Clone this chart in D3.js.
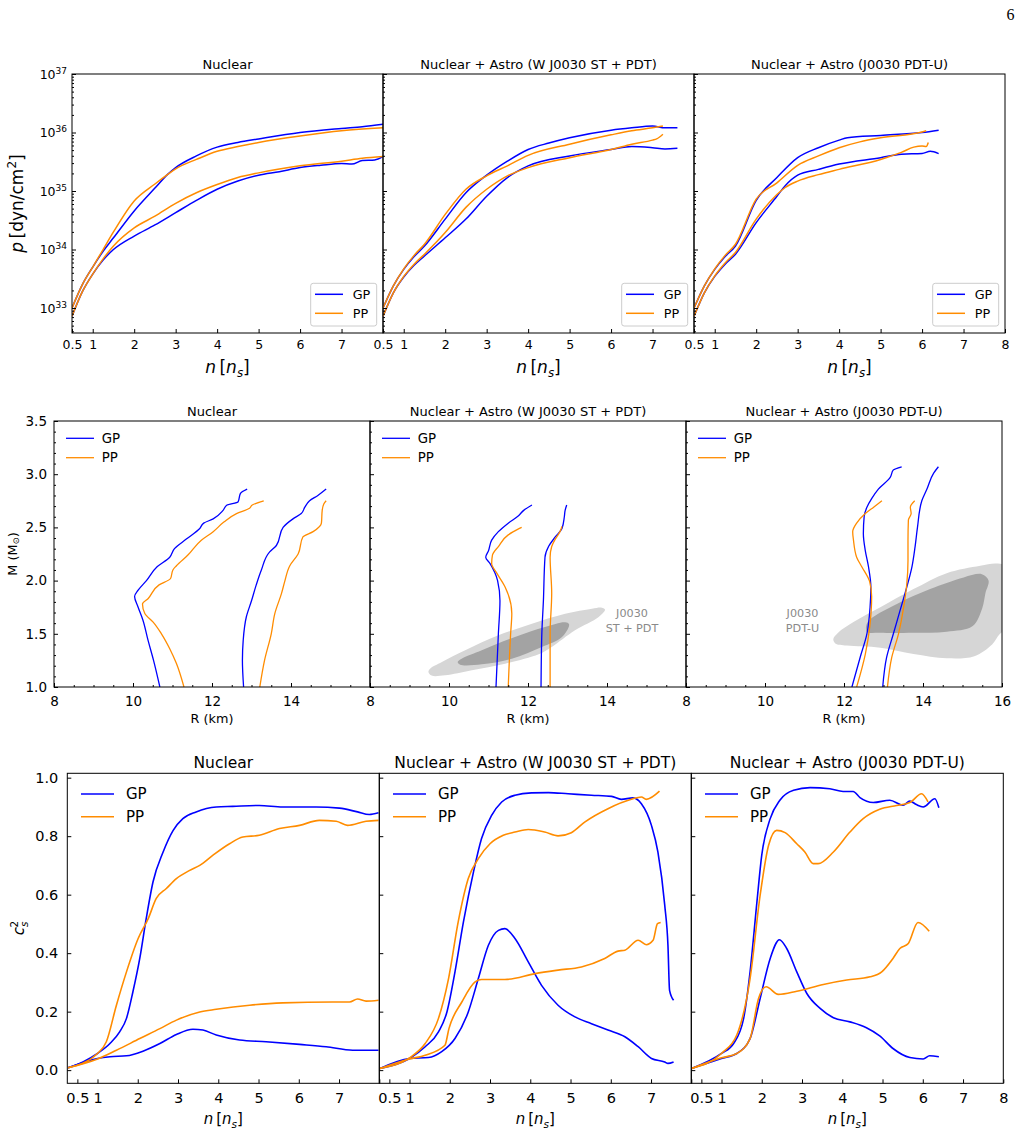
<!DOCTYPE html>
<html>
<head>
<meta charset="utf-8">
<script src="https://cdn.jsdelivr.net/npm/d3@7"></script>
<style>
  body { margin: 0; background: #fff; }
  text { font-family: "DejaVu Sans", sans-serif; }
</style>
</head>
<body>
<div class="graphic"></div>
<script>
// ---------- data ----------
const titles = ["Nuclear", "Nuclear + Astro (W J0030 ST + PDT)", "Nuclear + Astro (J0030 PDT-U)"];
const seriesNames = ["GP", "PP"];

// row 1: pressure, stored as [n/ns, log10 p]
const nucPGPHi = [[0.5,33.0],[0.75,33.4],[1,33.7],[1.25,33.97],[1.5,34.2],[2,34.66],[2.5,35.05],[2.8,35.28],[3,35.40],[3.5,35.60],[4,35.75],[4.5,35.83],[5,35.89],[6,36.0],[7,36.07],[7.5,36.1],[8,36.14]];
const nucPGPLo = [[0.5,32.86],[0.75,33.28],[1,33.58],[1.25,33.82],[1.5,34.0],[2,34.23],[2.5,34.42],[3,34.63],[3.5,34.84],[4,35.03],[4.5,35.17],[5,35.27],[5.5,35.33],[6,35.40],[6.5,35.44],[7,35.47],[7.25,35.46],[7.5,35.52],[7.8,35.53],[8,35.59]];
const nucPPPHi = [[0.5,33.0],[0.75,33.4],[1,33.7],[1.25,34.0],[1.5,34.3],[2,34.83],[2.5,35.12],[2.8,35.28],[3,35.38],[3.5,35.54],[4,35.68],[4.5,35.76],[5,35.83],[6,35.94],[7,36.03],[8,36.08]];
const nucPPPLo = [[0.5,32.86],[0.75,33.28],[1,33.58],[1.25,33.84],[1.5,34.06],[2,34.37],[2.5,34.57],[3,34.79],[3.5,34.97],[4,35.11],[4.5,35.23],[5,35.31],[6,35.43],[7,35.51],[7.5,35.56],[8,35.59]];

const astPGPHi = [[0.5,33.0],[0.75,33.38],[1,33.66],[1.25,33.88],[1.5,34.06],[2,34.52],[2.5,34.97],[3,35.27],[3.5,35.51],[4,35.71],[4.5,35.82],[5,35.91],[6,36.04],[6.5,36.08],[7,36.11],[7.3,36.08],[7.6,36.08]];
const astPGPLo = [[0.5,32.86],[0.75,33.26],[1,33.53],[1.25,33.73],[1.5,33.89],[2,34.2],[2.5,34.52],[3,34.91],[3.5,35.23],[4,35.43],[5,35.6],[6,35.71],[6.5,35.76],[7,35.74],[7.3,35.72],[7.6,35.73]];
const astPPPHi = [[0.5,33.0],[0.75,33.38],[1,33.67],[1.25,33.9],[1.5,34.09],[2,34.6],[2.5,35.03],[3,35.26],[3.5,35.43],[4,35.61],[5,35.8],[6,35.96],[6.5,36.03],[7,36.08],[7.25,36.11]];
const astPPPLo = [[0.5,32.86],[0.75,33.26],[1,33.54],[1.25,33.75],[1.5,33.92],[2,34.29],[2.5,34.72],[3,35.03],[3.5,35.26],[4,35.4],[5,35.57],[6,35.71],[6.5,35.8],[7,35.87],[7.1,35.89],[7.25,35.97]];

const pdtPGPHi = [[0.5,33.0],[0.75,33.38],[1,33.66],[1.25,33.88],[1.5,34.06],[2,34.84],[2.5,35.23],[3,35.57],[3.5,35.74],[4,35.87],[4.2,35.91],[5,35.95],[6,36.0],[6.4,36.04]];
const pdtPGPLo = [[0.5,32.86],[0.75,33.26],[1,33.54],[1.25,33.75],[1.5,33.92],[2,34.46],[2.5,34.91],[2.7,35.09],[3,35.27],[3.5,35.37],[4,35.46],[5,35.57],[5.5,35.63],[6,35.64],[6.2,35.68],[6.4,35.64]];
const pdtPPPHi = [[0.5,33.0],[0.75,33.38],[1,33.67],[1.25,33.9],[1.5,34.09],[2,34.86],[2.5,35.14],[3,35.44],[3.5,35.6],[4,35.74],[4.5,35.84],[5,35.91],[6,36.01],[6.1,36.03]];
const pdtPPPLo = [[0.5,32.86],[0.75,33.26],[1,33.55],[1.25,33.77],[1.5,33.95],[2,34.52],[2.5,34.94],[2.7,35.06],[3,35.17],[3.5,35.28],[4,35.37],[5,35.54],[5.5,35.66],[5.8,35.75],[6,35.77],[6.1,35.76],[6.15,35.83]];

// row 2: mass-radius, stored as [R km, M Msun]
const nucMGPL = [[10.68,1.0],[10.52,1.25],[10.38,1.44],[10.25,1.63],[10.13,1.75],[10.04,1.85],[10.13,1.91],[10.34,2.0],[10.61,2.13],[10.93,2.22],[11.05,2.30],[11.35,2.39],[11.69,2.49],[11.79,2.54],[12.03,2.58],[12.28,2.66],[12.38,2.71],[12.66,2.74],[12.72,2.82],[12.89,2.86]];
const nucMGPR = [[12.80,1.0],[12.77,1.25],[12.79,1.44],[12.87,1.66],[13.0,1.81],[13.12,1.96],[13.25,2.10],[13.46,2.27],[13.63,2.33],[13.80,2.50],[14.05,2.58],[14.26,2.63],[14.35,2.69],[14.47,2.75],[14.68,2.80],[14.89,2.86]];
const nucMPPL = [[11.29,1.0],[11.10,1.22],[10.93,1.36],[10.72,1.50],[10.51,1.61],[10.30,1.69],[10.24,1.78],[10.38,1.83],[10.66,1.96],[10.95,2.02],[11.01,2.10],[11.10,2.14],[11.39,2.24],[11.73,2.38],[12.03,2.46],[12.30,2.55],[12.62,2.63],[12.95,2.68],[13.02,2.71],[13.31,2.75]];
const nucMPPR = [[13.21,1.0],[13.33,1.25],[13.50,1.50],[13.59,1.69],[13.76,1.88],[13.84,1.99],[13.97,2.14],[14.18,2.25],[14.30,2.41],[14.56,2.46],[14.77,2.54],[14.79,2.66],[14.83,2.72],[14.89,2.75]];

const astMGPL = [[11.19,1.0],[11.25,1.5],[11.29,1.81],[11.23,2.0],[11.04,2.16],[10.93,2.22],[11.0,2.28],[11.08,2.38],[11.25,2.46],[11.5,2.54],[11.76,2.61],[11.89,2.66],[12.1,2.71]];
const astMGPR = [[12.33,1.0],[12.35,1.5],[12.39,1.81],[12.43,2.22],[12.52,2.32],[12.69,2.41],[12.86,2.49],[12.92,2.60],[12.94,2.66],[12.98,2.71]];
const astMPPL = [[11.5,1.0],[11.56,1.5],[11.59,1.69],[11.42,1.94],[11.21,2.07],[11.08,2.16],[11.1,2.24],[11.25,2.32],[11.5,2.43],[11.63,2.46],[11.84,2.5]];
const astMPPR = [[12.56,1.0],[12.56,1.5],[12.6,1.88],[12.56,2.22],[12.6,2.32],[12.69,2.39],[12.81,2.46],[12.86,2.51]];

const pdtMGPL = [[12.2,1.0],[12.41,1.28],[12.58,1.5],[12.66,1.75],[12.68,1.94],[12.62,2.13],[12.54,2.28],[12.49,2.44],[12.51,2.6],[12.58,2.69],[12.7,2.77],[12.87,2.86],[13.17,2.97],[13.25,3.04],[13.46,3.07]];
const pdtMGPR = [[12.98,1.0],[13.08,1.28],[13.25,1.5],[13.42,1.72],[13.59,1.94],[13.72,2.13],[13.8,2.32],[13.86,2.5],[13.97,2.75],[14.1,2.86],[14.27,3.01],[14.39,3.07]];
const pdtMPPL = [[12.32,1.0],[12.54,1.31],[12.65,1.56],[12.7,1.85],[12.65,1.99],[12.45,2.13],[12.32,2.22],[12.24,2.38],[12.22,2.46],[12.32,2.54],[12.54,2.63],[12.75,2.69],[12.96,2.75]];
const pdtMPPR = [[13.1,1.0],[13.21,1.28],[13.38,1.5],[13.51,1.75],[13.59,1.97],[13.62,2.19],[13.62,2.38],[13.63,2.57],[13.7,2.63],[13.68,2.69],[13.79,2.75]];

// J0030 credible regions [R km, M Msun]
const stOuter = [[9.48,1.141],[9.56,1.107],[9.9,1.11],[10.58,1.157],[11.42,1.219],[12.27,1.307],[12.6,1.376],[13.19,1.533],[13.79,1.658],[13.95,1.727],[13.87,1.746],[13.62,1.736],[12.94,1.689],[12.1,1.595],[11.25,1.486],[10.41,1.345],[9.82,1.235],[9.52,1.172]];
const stInner = [[10.22,1.235],[10.28,1.21],[10.83,1.213],[11.59,1.266],[12.35,1.376],[12.86,1.47],[13.04,1.589],[12.94,1.608],[12.43,1.564],[11.67,1.47],[10.83,1.345],[10.32,1.266]];
const pdtuOuter = [[11.73,1.45],[11.85,1.51],[12.24,1.61],[12.92,1.75],[13.76,1.92],[14.6,2.07],[15.45,2.14],[15.9,2.16],[16.3,2.1],[16.3,1.6],[15.95,1.5],[15.75,1.4],[15.3,1.29],[14.6,1.27],[13.76,1.31],[12.92,1.37],[12.07,1.39],[11.78,1.41]];
const pdtuInner = [[12.58,1.52],[12.6,1.61],[13.34,1.78],[14.18,1.92],[15.03,2.03],[15.49,2.06],[15.66,2.0],[15.58,1.88],[15.5,1.74],[15.25,1.57],[14.6,1.52],[13.76,1.51],[12.92,1.51]];
const regionLabels = [null, ["J0030", "ST + PDT"], ["J0030", "PDT-U"]];

// row 3: sound speed squared [n/ns, cs2]
const nucCGPHi = [[0.27,0.008],[0.64,0.028],[1.0,0.057],[1.31,0.091],[1.55,0.131],[1.72,0.177],[1.88,0.268],[2.05,0.382],[2.21,0.518],[2.38,0.644],[2.63,0.746],[2.88,0.82],[3.12,0.86],[3.45,0.883],[3.95,0.9],[4.36,0.902],[5.02,0.905],[5.6,0.9],[6.43,0.9],[7.01,0.896],[7.46,0.883],[7.75,0.874],[7.98,0.88]];
const nucCGPLo = [[0.27,0.008],[1.0,0.04],[1.31,0.046],[1.72,0.049],[2.13,0.065],[2.55,0.091],[2.96,0.122],[3.37,0.14],[3.62,0.137],[3.95,0.12],[4.53,0.103],[5.19,0.097],[6.02,0.088],[6.68,0.08],[7.34,0.068],[7.98,0.068]];
const nucCPPHi = [[0.27,0.008],[1.0,0.057],[1.22,0.097],[1.47,0.222],[1.72,0.336],[2.01,0.45],[2.26,0.518],[2.46,0.587],[2.71,0.621],[2.96,0.655],[3.29,0.683],[3.54,0.7],[3.87,0.735],[4.28,0.774],[4.61,0.797],[5.02,0.803],[5.52,0.826],[6.02,0.837],[6.51,0.854],[6.93,0.851],[7.21,0.837],[7.67,0.851],[7.98,0.854]];
const nucCPPLo = [[0.27,0.008],[1.0,0.038],[1.47,0.068],[2.05,0.108],[2.55,0.142],[2.96,0.171],[3.54,0.199],[3.95,0.208],[4.78,0.222],[5.6,0.23],[6.84,0.233],[7.26,0.233],[7.46,0.243],[7.67,0.236],[7.98,0.239]];

const astCGPHi = [[0.27,0.006],[1.0,0.04],[1.39,0.08],[1.72,0.131],[1.93,0.199],[2.13,0.336],[2.34,0.507],[2.59,0.678],[2.79,0.792],[3.04,0.871],[3.29,0.917],[3.62,0.94],[4.03,0.948],[4.45,0.949],[4.94,0.945],[5.52,0.94],[6.02,0.936],[6.26,0.926],[6.55,0.931],[6.76,0.911],[7.01,0.837],[7.17,0.746],[7.34,0.564],[7.42,0.427],[7.46,0.273],[7.56,0.239]];
const astCGPLo = [[0.27,0.006],[1.0,0.04],[1.47,0.043],[1.8,0.063],[2.13,0.108],[2.46,0.199],[2.71,0.313],[2.96,0.427],[3.21,0.478],[3.37,0.484],[3.62,0.45],[3.95,0.37],[4.28,0.29],[4.69,0.222],[5.11,0.182],[5.52,0.159],[5.93,0.137],[6.35,0.114],[6.68,0.08],[7.01,0.04],[7.34,0.028],[7.42,0.023],[7.56,0.028]];
const astCPPHi = [[0.27,0.006],[1.0,0.042],[1.39,0.091],[1.72,0.177],[1.97,0.313],[2.21,0.507],[2.46,0.655],[2.71,0.723],[3.0,0.774],[3.33,0.803],[3.62,0.814],[3.95,0.823],[4.36,0.814],[4.69,0.801],[5.02,0.812],[5.36,0.849],[5.93,0.894],[6.51,0.926],[6.76,0.934],[6.88,0.926],[7.21,0.954]];
const astCPPLo = [[0.27,0.006],[1.0,0.038],[1.39,0.051],[1.88,0.085],[1.98,0.142],[2.3,0.233],[2.63,0.302],[2.79,0.31],[3.37,0.31],[4.12,0.33],[4.69,0.342],[5.27,0.353],[5.85,0.382],[6.18,0.407],[6.35,0.41],[6.68,0.444],[6.88,0.429],[7.05,0.444],[7.16,0.501],[7.24,0.505]];

const pdtCGPHi = [[0.26,0.006],[1.0,0.057],[1.3,0.091],[1.55,0.177],[1.71,0.336],[1.88,0.575],[2.0,0.735],[2.21,0.86],[2.45,0.923],[2.79,0.957],[3.2,0.966],[3.69,0.962],[4.02,0.953],[4.27,0.953],[4.44,0.932],[4.77,0.915],[5.18,0.923],[5.51,0.906],[5.68,0.92],[5.84,0.908],[6.01,0.9],[6.3,0.928],[6.4,0.897]];
const pdtCGPLo = [[0.26,0.006],[1.0,0.04],[1.38,0.057],[1.71,0.108],[1.96,0.245],[2.21,0.382],[2.44,0.446],[2.62,0.416],[2.87,0.336],[3.12,0.262],[3.45,0.211],[3.78,0.179],[4.19,0.165],[4.6,0.145],[4.93,0.117],[5.26,0.074],[5.68,0.043],[6.01,0.038],[6.17,0.049],[6.4,0.046]];
const pdtCPPHi = [[0.26,0.006],[1.0,0.057],[1.38,0.12],[1.71,0.313],[1.96,0.598],[2.17,0.769],[2.37,0.82],[2.58,0.812],[2.87,0.774],[3.07,0.746],[3.28,0.706],[3.4,0.706],[3.78,0.746],[4.19,0.814],[4.52,0.86],[4.93,0.892],[5.35,0.905],[5.68,0.915],[5.97,0.945],[6.13,0.917]];
const pdtCPPLo = [[0.26,0.006],[1.0,0.042],[1.38,0.057],[1.71,0.108],[1.92,0.245],[2.11,0.285],[2.41,0.259],[2.87,0.27],[3.53,0.293],[4.11,0.308],[4.69,0.319],[4.98,0.336],[5.26,0.382],[5.43,0.416],[5.64,0.433],[5.88,0.505],[6.16,0.475]];

// tick values
const nTicks = [0.5, 1, 2, 3, 4, 5, 6, 7, 8];
const pTicks = [1e33, 1e34, 1e35, 1e36, 1e37];
const rTicks = [8, 10, 12, 14, 16];
const mTicks = [1.0, 1.5, 2.0, 2.5, 3.0, 3.5];
const csTicks = [0.0, 0.2, 0.4, 0.6, 0.8, 1.0];

// ---------- drawing ----------
const GP = "#0000ff", PP = "#ff8c00";
let svg = d3.select(".graphic").append("svg")
            .attr("width", 1022)
            .attr("height", 1134);
let clipId = 0;

function panelGroup(L, T, w, h) {
    let g = svg.append("g").attr("transform", `translate(${L},${T})`);
    let id = "clip" + (clipId++);
    g.append("clipPath").attr("id", id).append("rect").attr("width", w).attr("height", h);
    g.plot = g.append("g").attr("clip-path", `url(#${id})`);
    return g;
}

function drawAxes(g, x, y, w, h, o) {
    let xa = d3.axisBottom(x).tickValues(o.xTicks).tickSize(-4).tickSizeOuter(0)
        .tickPadding(o.padX).tickFormat(o.xFmt);
    g.append("g").attr("transform", `translate(0,${h})`).call(xa)
        .attr("font-size", o.fs).attr("font-family", "DejaVu Sans")
        .call(a => a.select(".domain").remove());
    if (o.xMinor) {
        g.append("g").attr("transform", `translate(0,${h})`)
            .call(d3.axisBottom(x).tickValues(o.xMinor).tickSize(-2).tickSizeOuter(0).tickFormat(""))
            .call(a => a.select(".domain").remove());
    }
    let ya = d3.axisLeft(y).tickValues(o.yTicks).tickSize(-4).tickSizeOuter(0)
        .tickPadding(o.padY).tickFormat(o.yFmt);
    let yg = g.append("g").call(ya)
        .attr("font-size", o.fs).attr("font-family", "DejaVu Sans")
        .call(a => a.select(".domain").remove());
    if (o.yPost) o.yPost(yg);
    if (o.yMinor) {
        g.append("g")
            .call(d3.axisLeft(y).tickValues(o.yMinor).tickSize(-2).tickSizeOuter(0).tickFormat(""))
            .call(a => a.select(".domain").remove());
    }
    g.append("rect").attr("width", w).attr("height", h)
        .attr("fill", "none").attr("stroke", "#000").attr("stroke-width", 1);
}

function legend(g, x0, x1, tx, ys, fs, lw) {
    seriesNames.forEach((s, k) => {
        g.append("line").attr("x1", x0).attr("x2", x1).attr("y1", ys[k]).attr("y2", ys[k])
            .attr("stroke", k === 0 ? GP : PP).attr("stroke-width", lw);
        g.append("text").attr("x", tx).attr("y", ys[k]).attr("dy", "0.35em")
            .attr("font-size", fs).text(s);
    });
}

function title(cx, y, fs, t) {
    svg.append("text").attr("x", cx).attr("y", y).attr("text-anchor", "middle")
        .attr("font-size", fs).text(t);
}

function nLabel(cx, y, fs) {
    let t = svg.append("text").attr("x", cx).attr("y", y).attr("text-anchor", "middle").attr("font-size", fs);
    t.append("tspan").attr("font-style", "italic").text("n");
    t.append("tspan").text("\u2009[");
    t.append("tspan").attr("font-style", "italic").text("n");
    t.append("tspan").attr("font-style", "italic").attr("font-size", fs * 0.7).attr("dy", fs * 0.25).text("s");
    t.append("tspan").attr("dy", -fs * 0.25).text("]");
}

const nFmt = (last) => (d) => (d === 8 && !last) ? "" : (d === 0.5 ? "0.5" : d3.format("d")(d));

// ---- row 1: pressure ----
const r1 = {lefts: [72, 383, 694], top: 74, w: 311, h: 259};
const pSets = [[nucPGPHi, nucPGPLo, nucPPPHi, nucPPPLo],
               [astPGPHi, astPGPLo, astPPPHi, astPPPLo],
               [pdtPGPHi, pdtPGPLo, pdtPPPHi, pdtPPPLo]];
const pMinor = [];
for (let e = 32; e < 37; e++) for (let k = 2; k < 10; k++) {
    if (k * Math.pow(10, e) > Math.pow(10, 32.573)) pMinor.push(k * Math.pow(10, e));
}
r1.lefts.forEach((L, i) => {
    let g = panelGroup(L, r1.top, r1.w, r1.h);
    let x = d3.scaleLinear().domain([0.5, 8]).range([0, r1.w]);
    let y = d3.scaleLog().domain([Math.pow(10, 32.573), 1e37]).range([r1.h, 0]);
    let line = d3.line().x(d => x(d[0])).y(d => y(Math.pow(10, d[1]))).curve(d3.curveMonotoneX);
    pSets[i].forEach((s, k) => {
        g.plot.append("path").attr("d", line(s)).attr("fill", "none")
            .attr("stroke", k < 2 ? GP : PP).attr("stroke-width", 1.5);
    });
    drawAxes(g, x, y, r1.w, r1.h, {
        xTicks: nTicks, xFmt: nFmt(i === 2), padX: 7, fs: 12.5,
        yTicks: pTicks, yFmt: d => "", padY: 5, yMinor: pMinor,
        yPost: i === 0 ? (yg => yg.selectAll(".tick text").each(function (d) {
            let t = d3.select(this);
            t.append("tspan").text("10");
            t.append("tspan").attr("dy", "-0.55em").attr("font-size", "0.72em").text(Math.round(Math.log10(d)));
        })) : null
    });
    // legend box, lower right
    let bx = r1.w - 72.3, by = r1.h - 49.7;
    g.append("rect").attr("x", bx).attr("y", by).attr("width", 66).attr("height", 42.7)
        .attr("rx", 2.5).attr("fill", "#fff").attr("fill-opacity", 0.8)
        .attr("stroke", "#cccccc").attr("stroke-width", 1);
    legend(g, bx + 4.3, bx + 32.3, bx + 42, [by + 11, by + 30], 12.8, 1.5);
    title(L + r1.w / 2, 69.3, 13, titles[i]);
    nLabel(L + r1.w / 2, 373, 17);
});
{
    let t = svg.append("text").attr("transform", "translate(22.5,203.5) rotate(-90)")
        .attr("text-anchor", "middle").attr("font-size", 17);
    t.append("tspan").attr("font-style", "italic").text("p");
    t.append("tspan").text("\u2009[dyn/cm");
    t.append("tspan").attr("font-size", 12).attr("dy", -7).text("2");
    t.append("tspan").attr("dy", 7).text("]");
}

// ---- row 2: mass-radius ----
const r2 = {lefts: [54, 370, 686], top: 421, w: 316, h: 266};
const mSets = [[nucMGPL, nucMGPR, nucMPPL, nucMPPR],
               [astMGPL, astMGPR, astMPPL, astMPPR],
               [pdtMGPL, pdtMGPR, pdtMPPL, pdtMPPR]];
const regions = [null, [stOuter, stInner], [pdtuOuter, pdtuInner]];
const regionText = [null, [632, 613], [802.5, 613]];
r2.lefts.forEach((L, i) => {
    let g = panelGroup(L, r2.top, r2.w, r2.h);
    let x = d3.scaleLinear().domain([8, 16]).range([0, r2.w]);
    let y = d3.scaleLinear().domain([1.0, 3.5]).range([r2.h, 0]);
    if (regions[i]) {
        let area = d3.line().x(d => x(d[0])).y(d => y(d[1])).curve(d3.curveCatmullRomClosed.alpha(0.5));
        g.plot.append("path").attr("d", area(regions[i][0])).attr("fill", "#d6d6d6");
        g.plot.append("path").attr("d", area(regions[i][1])).attr("fill", "#a3a3a3");
        regionLabels[i].forEach((s, k) => {
            svg.append("text").attr("x", regionText[i][0]).attr("y", regionText[i][1] + k * 15.3)
                .attr("dy", "0.35em").attr("text-anchor", "middle")
                .attr("font-size", 11.2).attr("fill", "#8a8a8a").text(s);
        });
    }
    let line = d3.line().x(d => x(d[0])).y(d => y(d[1])).curve(d3.curveMonotoneY);
    mSets[i].forEach((s, k) => {
        g.plot.append("path").attr("d", line(s)).attr("fill", "none")
            .attr("stroke", k < 2 ? GP : PP).attr("stroke-width", 1.3);
    });
    drawAxes(g, x, y, r2.w, r2.h, {
        xTicks: rTicks, xFmt: d => (d === 16 && i < 2) ? "" : d3.format("d")(d), padX: 9, fs: 13.5,
        xMinor: d3.range(8.5, 16, 0.5).filter(v => v % 2 !== 0),
        yTicks: mTicks, yFmt: i === 0 ? d3.format(".1f") : (d => ""), padY: 7,
        yMinor: d3.range(1.1, 3.5, 0.1).filter(v => Math.abs(v * 2 - Math.round(v * 2)) > 0.01)
    });
    legend(g, 12, 40, 47.7, [17.3, 36.7], 13.3, 1.3);
    title(L + r2.w / 2, 416, 13, titles[i]);
    svg.append("text").attr("x", L + r2.w / 2).attr("y", 722.5).attr("text-anchor", "middle")
        .attr("font-size", 12.8).text("R (km)");
});
{
    let t = svg.append("text").attr("transform", "translate(16.5,554) rotate(-90)")
        .attr("text-anchor", "middle").attr("font-size", 12.8);
    t.append("tspan").text("M (M");
    t.append("tspan").attr("font-size", 8.5).attr("dy", 2.5).text("\u2299");
    t.append("tspan").attr("dy", -2.5).text(")");
}

// ---- row 3: sound speed ----
const r3 = {lefts: [67.3, 379.3, 691.3], top: 773.3, w: 312, h: 310};
const cSets = [[nucCGPHi, nucCGPLo, nucCPPHi, nucCPPLo],
               [astCGPHi, astCGPLo, astCPPHi, astCPPLo],
               [pdtCGPHi, pdtCGPLo, pdtCPPHi, pdtCPPLo]];
r3.lefts.forEach((L, i) => {
    let g = panelGroup(L, r3.top, r3.w, r3.h);
    let x = d3.scaleLinear().domain([0.25, 8]).range([0, r3.w]);
    let y = d3.scaleLinear().domain([-0.045, 1.015]).range([r3.h, 0]);
    let line = d3.line().x(d => x(d[0])).y(d => y(d[1])).curve(d3.curveMonotoneX);
    cSets[i].forEach((s, k) => {
        g.plot.append("path").attr("d", line(s)).attr("fill", "none")
            .attr("stroke", k < 2 ? GP : PP).attr("stroke-width", 1.6);
    });
    drawAxes(g, x, y, r3.w, r3.h, {
        xTicks: nTicks, xFmt: nFmt(i === 2), padX: 9, fs: 14.5,
        yTicks: csTicks, yFmt: i === 0 ? d3.format(".1f") : (d => ""), padY: 9
    });
    legend(g, 13.7, 46.7, 58.7, [20.7, 43.4], 15, 1.6);
    title(L + r3.w / 2, 767.5, 15.5, titles[i]);
    nLabel(L + r3.w / 2, 1124, 15);
});
{
    let t = svg.append("text").attr("transform", "translate(24,928) rotate(-90)")
        .attr("text-anchor", "middle").attr("font-size", 15);
    t.append("tspan").attr("font-style", "italic").text("c");
    t.append("tspan").attr("font-style", "italic").attr("font-size", 10.5).attr("dy", 3.5).text("s");
    t.append("tspan").attr("font-size", 10.5).attr("dx", -6).attr("dy", -10).text("2");
}

// page number
svg.append("text").attr("x", 1010.5).attr("y", 20).attr("text-anchor", "middle")
    .style("font-family", "Liberation Serif, serif")
    .attr("font-size", 16).text("6");
</script>
</body>
</html>
